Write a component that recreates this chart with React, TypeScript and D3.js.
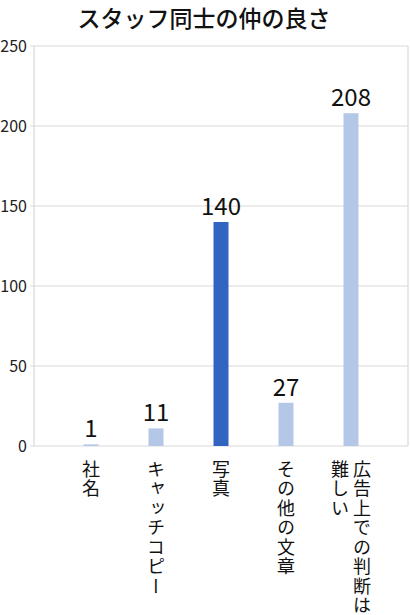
import React, { useEffect, useRef } from 'react';
import * as d3 from 'd3';

const title = 'スタッフ同士の仲の良さ';
const categories = ['社名', 'キャッチコピー', '写真', 'その他の文章', '広告上での判断は難しい'];
const values = [1, 11, 140, 27, 208];
const highlighted = ['写真'];
const yTicks = [0, 50, 100, 150, 200, 250];

const FONT = '"Noto Sans CJK JP", "Noto Sans", sans-serif';
const LIGHT = '#b4c7e7';
const DARK = '#3264c1';
const GRID = '#d9d9d9';

// split long labels into vertical columns of max 8 chars
const splitLabel = (s: string) => {
  const out: string[] = [];
  for (let i = 0; i < s.length; i += 8) out.push(s.slice(i, i + 8));
  return out;
};

export default function App() {
  const svgRef = useRef<SVGSVGElement>(null);

  useEffect(() => {
    if (!svgRef.current) return;
    const svg = d3.select(svgRef.current);
    svg.selectAll('*').remove();

    const width = 410;
    const height = 615;
    const margin = { top: 46, right: 2, bottom: 169, left: 34 };
    const innerW = width - margin.left - margin.right;
    const innerH = height - margin.top - margin.bottom;

    const x = d3.scalePoint<string>()
      .domain(categories)
      .range([0, innerW])
      .padding(0.877);

    const y = d3.scaleLinear()
      .domain([0, 250])
      .range([innerH, 0]);

    svg.append('text')
      .attr('x', 204)
      .attr('y', 27)
      .attr('text-anchor', 'middle')
      .attr('font-family', FONT)
      .attr('font-size', 23)
      .attr('font-weight', 500)
      .attr('fill', '#111')
      .text(title);

    const g = svg.append('g')
      .attr('transform', `translate(${margin.left},${margin.top})`);

    // gridlines + ticks
    g.selectAll('line.grid')
      .data(yTicks)
      .join('line')
      .attr('class', 'grid')
      .attr('x1', -4)
      .attr('x2', innerW)
      .attr('y1', d => y(d))
      .attr('y2', d => y(d))
      .attr('stroke', GRID)
      .attr('stroke-width', 1.2);

    g.append('line')
      .attr('x1', 0).attr('x2', 0)
      .attr('y1', 0).attr('y2', innerH)
      .attr('stroke', GRID).attr('stroke-width', 1.2);

    g.append('line')
      .attr('x1', innerW).attr('x2', innerW)
      .attr('y1', 0).attr('y2', innerH)
      .attr('stroke', GRID).attr('stroke-width', 1.2);

    g.selectAll('text.ytick')
      .data(yTicks)
      .join('text')
      .attr('class', 'ytick')
      .attr('x', -7)
      .attr('y', d => y(d) + 6)
      .attr('text-anchor', 'end')
      .attr('font-family', FONT)
      .attr('font-size', 16)
      .attr('fill', '#222')
      .text(d => d);

    const barW = 15;
    g.selectAll('rect.bar')
      .data(values)
      .join('rect')
      .attr('class', 'bar')
      .attr('x', (d, i) => (x(categories[i]) as number) - barW / 2)
      .attr('y', d => y(d))
      .attr('width', barW)
      .attr('height', d => innerH - y(d))
      .attr('fill', (d, i) => highlighted.includes(categories[i]) ? DARK : LIGHT);

    g.selectAll('text.val')
      .data(values)
      .join('text')
      .attr('class', 'val')
      .attr('x', (d, i) => x(categories[i]) as number)
      .attr('y', d => y(d) - 7)
      .attr('text-anchor', 'middle')
      .attr('font-family', FONT)
      .attr('font-size', 24)
      .attr('fill', '#111')
      .text(d => d);

    // vertical category labels
    categories.forEach(cat => {
      const lines = splitLabel(cat);
      const cx = x(cat) as number;
      const gap = 22;
      lines.forEach((line, li) => {
        const off = ((lines.length - 1) / 2 - li) * gap;
        g.append('text')
          .attr('x', cx + off)
          .attr('y', innerH + 14)
          .attr('font-family', FONT)
          .attr('font-size', 18)
          .attr('fill', '#111')
          .style('writing-mode', 'vertical-rl')
          .style('letter-spacing', '1.5px')
          .text(line);
      });
    });
  }, []);

  return (
    <svg
      ref={svgRef}
      width={410}
      height={615}
      style={{ position: 'absolute', left: 0, top: 0, background: '#fff' }}
    />
  );
}
